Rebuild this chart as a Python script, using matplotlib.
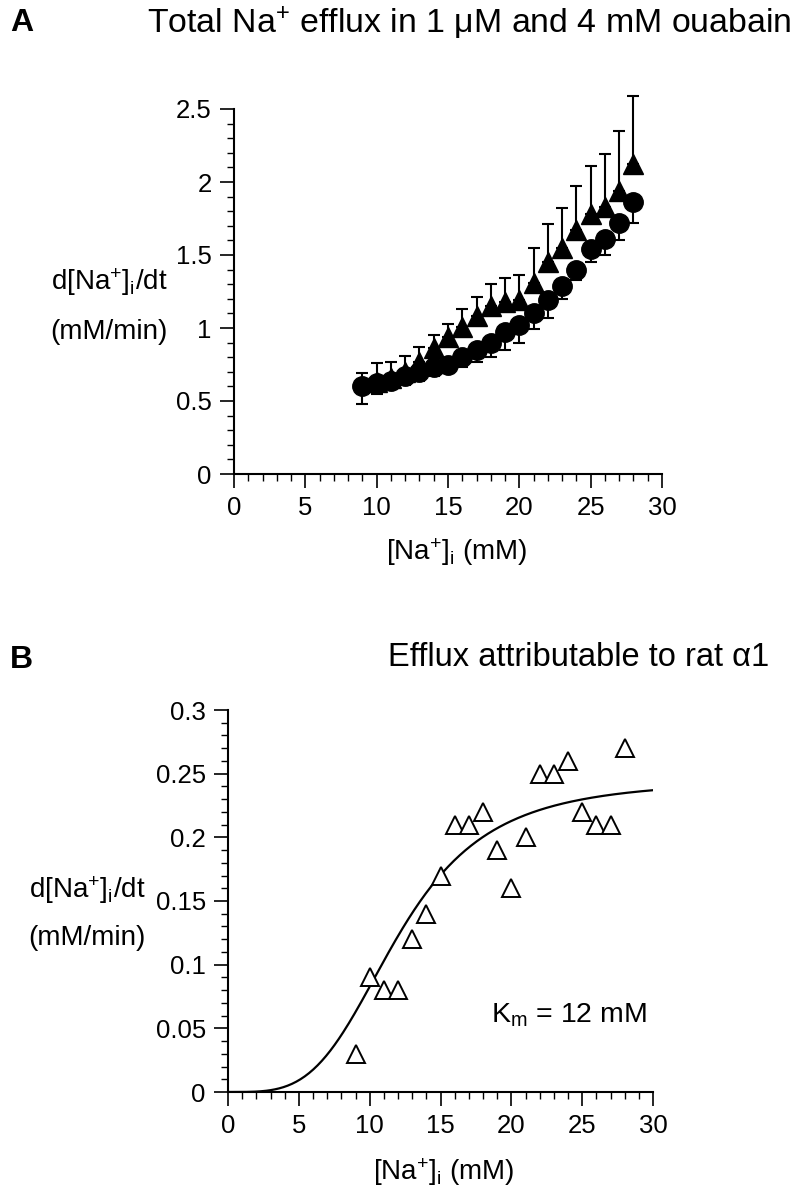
import matplotlib
matplotlib.use("Agg")
import matplotlib.pyplot as plt
from matplotlib.ticker import MultipleLocator
import numpy as np

plt.rcParams['font.family'] = ['Liberation Sans', 'DejaVu Sans']
plt.rcParams['mathtext.fontset'] = 'custom'
plt.rcParams['mathtext.rm'] = 'Liberation Sans'
plt.rcParams['mathtext.it'] = 'Liberation Sans:italic'

# Panel A: total Na+ efflux (circles = 1 uM ouabain, triangles = 4 mM ouabain)
na_circ = [9, 10, 11, 12, 13, 14, 15, 16, 17, 18, 19, 20, 21, 22, 23, 24, 25, 26, 27, 28]
flux_circ = [0.60, 0.62, 0.64, 0.67, 0.70, 0.73, 0.75, 0.80, 0.85, 0.90, 0.97, 1.02,
             1.10, 1.19, 1.29, 1.40, 1.54, 1.61, 1.72, 1.86]
err_circ_lo = [0.12, 0.07, 0.06, 0.06, 0.06, 0.06, 0.06, 0.07, 0.08, 0.10, 0.12, 0.12,
               0.11, 0.12, 0.09, 0.07, 0.09, 0.11, 0.12, 0.14]
err_circ_hi = [0.09, 0, 0, 0, 0, 0, 0, 0, 0, 0, 0, 0, 0, 0, 0, 0, 0, 0, 0, 0]

na_tri = [10, 11, 12, 13, 14, 15, 16, 17, 18, 19, 20, 21, 22, 23, 24, 25, 26, 27, 28]
flux_tri = [0.63, 0.66, 0.70, 0.77, 0.86, 0.94, 1.01, 1.08, 1.15, 1.18, 1.19, 1.31,
            1.45, 1.55, 1.67, 1.78, 1.83, 1.94, 2.12]
err_tri_hi = [0.13, 0.11, 0.11, 0.10, 0.09, 0.09, 0.12, 0.13, 0.15, 0.16, 0.17, 0.24,
              0.26, 0.27, 0.30, 0.33, 0.36, 0.41, 0.47]

# Panel B: efflux attributable to rat alpha1
na_b = [9, 10, 11, 12, 13, 14, 15, 16, 17, 18, 19, 20, 21, 22, 23, 24, 25, 26, 27, 28]
flux_b = [0.03, 0.09, 0.08, 0.08, 0.12, 0.14, 0.17, 0.21, 0.21, 0.22, 0.19, 0.16,
          0.20, 0.25, 0.25, 0.26, 0.22, 0.21, 0.21, 0.27]

# Hill fit shown in panel B
vmax = 0.245
km = 12.0
n_hill = 3.7

W, H = 796, 1200
fig = plt.figure(figsize=(W / 100, H / 100), dpi=100)


def px_axes(left, top, right, bottom):
    return fig.add_axes([left / W, 1 - bottom / H, (right - left) / W, (bottom - top) / H])


def style_axes(ax):
    for s in ['top', 'right']:
        ax.spines[s].set_visible(False)
    for s in ['left', 'bottom']:
        ax.spines[s].set_linewidth(1.5)
    ax.tick_params(which='major', direction='out', length=10, width=1.2,
                   labelsize=18.5, pad=6)
    ax.tick_params(which='minor', direction='out', length=5, width=1.0)
    ax.xaxis.set_major_locator(MultipleLocator(5))
    ax.xaxis.set_minor_locator(MultipleLocator(1))
    ax.set_xlim(0, 30)


# ---- panel A
axA = px_axes(234, 109, 662, 474)
style_axes(axA)
axA.set_ylim(0, 2.5)
axA.set_yticks([0, 0.5, 1, 1.5, 2, 2.5])
axA.set_yticklabels(['0', '0.5', '1', '1.5', '2', '2.5'])
axA.yaxis.set_minor_locator(MultipleLocator(0.1))
axA.set_xticks([0, 5, 10, 15, 20, 25, 30])
axA.set_xticklabels(['0', '5', '10', '15', '20', '25', '30'])

axA.errorbar(na_circ, flux_circ, yerr=[err_circ_lo, err_circ_hi], fmt='o', color='black',
             ms=14, elinewidth=1.5, capsize=4, capthick=1.5, clip_on=False, zorder=3)
axA.errorbar(na_tri, flux_tri, yerr=[[0] * len(err_tri_hi), err_tri_hi], fmt='^',
             color='black', ms=14, elinewidth=1.5, capsize=4, capthick=1.5,
             clip_on=False, zorder=4)

# ---- panel B
axB = px_axes(228, 710, 653, 1092)
style_axes(axB)
axB.set_ylim(0, 0.3)
axB.set_yticks([0, 0.05, 0.1, 0.15, 0.2, 0.25, 0.3])
axB.set_yticklabels(['0', '0.05', '0.1', '0.15', '0.2', '0.25', '0.3'])
axB.yaxis.set_minor_locator(MultipleLocator(0.01))
axB.set_xticks([0, 5, 10, 15, 20, 25, 30])
axB.set_xticklabels(['0', '5', '10', '15', '20', '25', '30'])

xs = np.linspace(0, 30, 300)
fit = vmax * xs ** n_hill / (km ** n_hill + xs ** n_hill)
axB.plot(xs, fit, color='black', lw=1.6, zorder=2)
axB.plot(na_b, flux_b, linestyle='none', marker='^', ms=13, mfc='white',
         mec='black', mew=1.4, zorder=3)


def ftext(x, y, s, **kw):
    fig.text(x / W, 1 - y / H, s, **kw)


# titles, panel letters
ftext(10, 23, 'A', fontsize=23, fontweight='bold', va='center', ha='left')
ftext(147, 23, r'Total Na$^\mathregular{+}$ efflux in 1 μM and 4 mM ouabain',
      fontsize=24.4, va='center', ha='left')
ftext(10, 660, 'B', fontsize=23, fontweight='bold', va='center', ha='left')
ftext(579, 657, 'Efflux attributable to rat α1', fontsize=23.5, va='center', ha='center')

# axis labels
ylab = r'd[Na$^\mathregular{+}$]$_\mathregular{i}$/dt'
xlab = r'[Na$^\mathregular{+}$]$_\mathregular{i}$ (mM)'
ftext(168, 282, ylab, fontsize=20, va='center', ha='right')
ftext(168, 332, '(mM/min)', fontsize=20, va='center', ha='right')
ftext(457, 552, xlab, fontsize=20, va='center', ha='center')

ftext(146, 890, ylab, fontsize=20, va='center', ha='right')
ftext(146, 938, '(mM/min)', fontsize=20, va='center', ha='right')
ftext(444, 1172, xlab, fontsize=20, va='center', ha='center')

ftext(647, 1015, r'K$_\mathregular{m}$ = 12 mM', fontsize=20.5, va='center', ha='right')

fig.savefig('out.png', dpi=100)
